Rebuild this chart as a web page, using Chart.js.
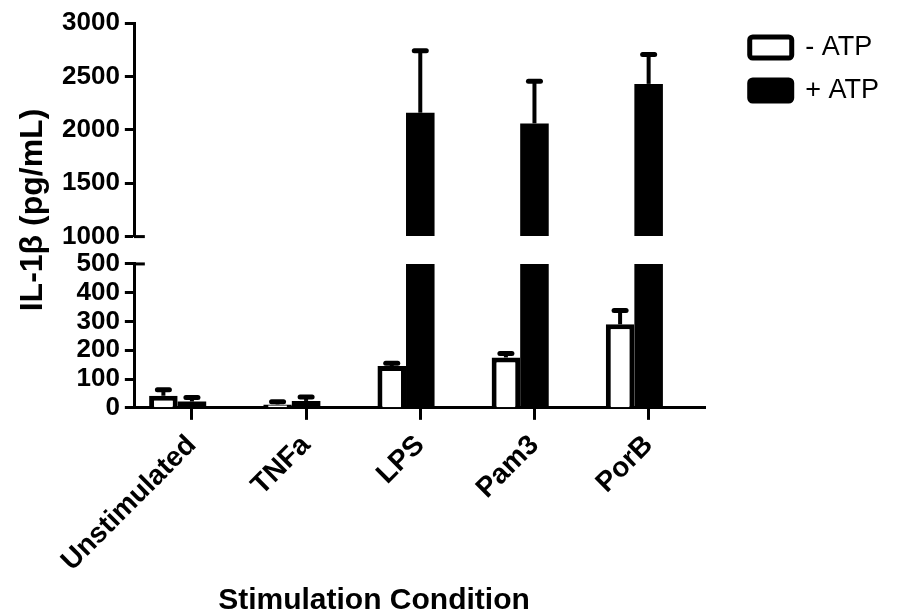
<!DOCTYPE html>
<html>
<head>
<meta charset="utf-8">
<script src="https://cdn.jsdelivr.net/npm/chart.js@4"></script>
<style>
  html, body { margin: 0; padding: 0; background: #fff; }
  #wrap { width: 900px; height: 614px; }
</style>
</head>
<body>
<div id="wrap"><canvas id="il1bChart"></canvas></div>
<script>
// IL-1β release by stimulation condition, with and without ATP
const categories = ['Unstimulated', 'TNFa', 'LPS', 'Pam3', 'PorB'];
const seriesNames = ['- ATP', '+ ATP'];
const minusMean = [42, 12, 145, 175, 290];
const minusErr = [21, 9, 10, 14, 48];
const plusMean = [22, 24, 2160, 2060, 2430];
const plusErr = [14, 14, 580, 395, 275];

// broken y axis: lower segment 0-500, upper segment 1000-3000
const lowerTicks = [0, 100, 200, 300, 400, 500];
const upperTicks = [1000, 1500, 2000, 2500, 3000];
const lowerMax = 500;
const upperMin = 1000;

const xTitle = 'Stimulation Condition';
const yTitle = 'IL-1\u03B2 (pg/mL)';

const FONT = '"Liberation Sans", Arial, sans-serif';

const errorBars = {
    id: 'errorBars',
    afterDatasetsDraw(chart) {
        const ctx = chart.ctx;
        const low = chart.scales.yLow;
        const high = chart.scales.yHigh;
        const pix = v => v > upperMin ? high.getPixelForValue(v) : low.getPixelForValue(Math.min(v, lowerMax));
        const groups = [
            { mean: minusMean, err: minusErr, lowSet: 0, highSet: 0 },
            { mean: plusMean, err: plusErr, lowSet: 1, highSet: 2 }
        ];
        ctx.save();
        ctx.strokeStyle = '#000';
        groups.forEach(g => {
            g.mean.forEach((m, i) => {
                const el = chart.getDatasetMeta(m > upperMin ? g.highSet : g.lowSet).data[i];
                const x = el.x;
                const y1 = pix(m + g.err[i]);
                ctx.lineWidth = 4;
                ctx.lineCap = 'butt';
                ctx.beginPath();
                ctx.moveTo(x, el.y);
                ctx.lineTo(x, y1);
                ctx.stroke();
                ctx.lineWidth = 5;
                ctx.lineCap = 'round';
                ctx.beginPath();
                ctx.moveTo(x - 6, y1);
                ctx.lineTo(x + 6, y1);
                ctx.stroke();
            });
        });
        ctx.restore();
    }
};

// little marks at both ends of the axis break, plus the two axis titles
const decorations = {
    id: 'decorations',
    afterDraw(chart) {
        const ctx = chart.ctx;
        const left = chart.chartArea.left;
        ctx.save();
        ctx.strokeStyle = '#000';
        ctx.lineWidth = 3;
        [chart.scales.yHigh.getPixelForValue(upperMin), chart.scales.yLow.getPixelForValue(lowerMax)].forEach(y => {
            ctx.beginPath();
            ctx.moveTo(left - 1, y);
            ctx.lineTo(left + 10, y);
            ctx.stroke();
        });
        ctx.fillStyle = '#000';
        ctx.textAlign = 'center';
        ctx.textBaseline = 'alphabetic';
        ctx.font = 'bold 30px ' + FONT;
        ctx.fillText(xTitle, 374, 609);
        ctx.translate(42, 210);
        ctx.rotate(-Math.PI / 2);
        ctx.font = 'bold 32px ' + FONT;
        ctx.fillText(yTitle, 0, 0);
        ctx.restore();
    }
};

const yAxisCommon = {
    type: 'linear',
    position: 'left',
    stack: 'y',
    border: { display: true, color: '#000', width: 3 },
    grid: { drawOnChartArea: false, drawTicks: true, tickLength: 10, tickWidth: 3, tickColor: '#000' },
    ticks: {
        color: '#000',
        padding: 5,
        autoSkip: false,
        callback: v => String(v),
        font: { family: FONT, size: 26, weight: 'bold' }
    }
};

new Chart(document.getElementById('il1bChart'), {
    type: 'bar',
    data: {
        labels: categories,
        datasets: [
            {
                label: seriesNames[0],
                data: minusMean,
                yAxisID: 'yLow',
                stack: 'minus',
                backgroundColor: '#fff',
                borderColor: '#000',
                borderWidth: 5
            },
            {
                label: seriesNames[1],
                data: plusMean.map(v => Math.min(v, lowerMax)),
                yAxisID: 'yLow',
                stack: 'plus',
                backgroundColor: '#000',
                borderColor: '#000',
                borderWidth: 0
            },
            {
                label: seriesNames[1] + ' (upper)',
                data: plusMean.map(v => v > upperMin ? v : null),
                yAxisID: 'yHigh',
                stack: 'plus',
                base: upperMin,
                backgroundColor: '#000',
                borderWidth: 0
            },
            {
                label: '',
                data: categories.map(() => null),
                yAxisID: 'yLow',
                stack: 'spacer'
            }
        ]
    },
    options: {
        responsive: true,
        maintainAspectRatio: false,
        animation: false,
        categoryPercentage: 0.75,
        barPercentage: 1,
        layout: { padding: { left: 57, top: 18, right: 11, bottom: 27 } },
        plugins: {
            // empty title only pushes the plot down a few pixels below the legend top
            title: { display: true, text: ' ', font: { size: 1, lineHeight: 1 }, padding: { top: 0, bottom: 4 } },
            tooltip: { enabled: false },
            legend: {
                position: 'right',
                align: 'start',
                maxWidth: 220,
                labels: {
                    color: '#000',
                    boxWidth: 42,
                    boxHeight: 21,
                    padding: 16,
                    useBorderRadius: true,
                    borderRadius: 3,
                    font: { family: FONT, size: 27 },
                    filter: item => item.datasetIndex < 2,
                    generateLabels: chart => Chart.defaults.plugins.legend.labels.generateLabels(chart).map(item => {
                        item.lineWidth = 5;
                        item.strokeStyle = '#000';
                        return item;
                    })
                }
            }
        },
        scales: {
            x: {
                type: 'category',
                offset: true,
                border: { display: true, color: '#000', width: 3 },
                grid: { offset: false, drawOnChartArea: false, drawTicks: true, tickLength: 12, tickWidth: 3, tickColor: '#000' },
                ticks: {
                    color: '#000',
                    padding: 9,
                    autoSkip: false,
                    minRotation: 45,
                    maxRotation: 45,
                    font: { family: FONT, size: 28, weight: 'bold' }
                }
            },
            yLow: Object.assign({}, yAxisCommon, {
                min: 0,
                max: lowerMax,
                stackWeight: 143.7,
                afterBuildTicks: s => { s.ticks = lowerTicks.map(v => ({ value: v })); }
            }),
            yGap: {
                type: 'linear',
                position: 'left',
                stack: 'y',
                stackWeight: 27.3,
                display: false
            },
            yHigh: Object.assign({}, yAxisCommon, {
                min: upperMin,
                max: 3000,
                stackWeight: 213.3,
                afterBuildTicks: s => { s.ticks = upperTicks.map(v => ({ value: v })); }
            }),
            yPad: {
                type: 'linear',
                position: 'right',
                display: true,
                border: { display: false },
                grid: { display: false },
                ticks: { display: false },
                afterFit: s => { s.width = 28; }
            }
        }
    },
    plugins: [errorBars, decorations]
});
</script>
</body>
</html>
